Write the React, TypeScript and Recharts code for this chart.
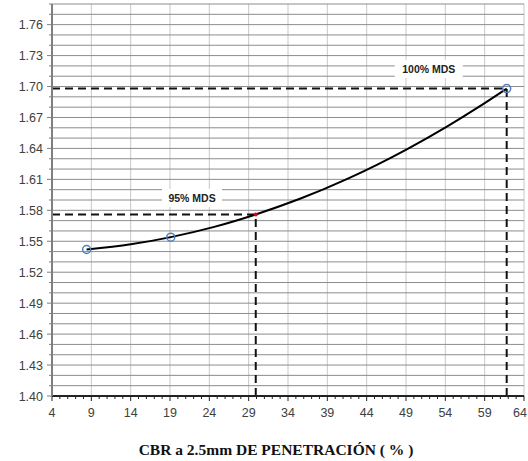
import React from 'react';
import {
  ComposedChart, Line, Scatter, XAxis, YAxis, ReferenceLine, ReferenceDot,
} from 'recharts';

// ensayo CBR: densidad seca vs CBR
const cbrPoints = [8.4, 19.1, 61.8];
const densityPoints = [1.542, 1.554, 1.698];

// curva de ajuste
const curveX = [8.4, 14.0, 19.1, 24.5, 29.9, 35.6, 41.4, 45.3, 49.1, 54.2, 58.0, 61.8];
const curveY = [1.542, 1.547, 1.554, 1.5637, 1.576, 1.5914, 1.610, 1.6241, 1.6391, 1.6611, 1.679, 1.698];

const mds100 = { x: 61.8, y: 1.698 };
const mds95 = { x: 29.9, y: 1.576 };

const xMajorTicks = [4, 9, 14, 19, 24, 29, 34, 39, 44, 49, 54, 59, 64];
const yMajorTicks = [1.40, 1.43, 1.46, 1.49, 1.52, 1.55, 1.58, 1.61, 1.64, 1.67, 1.70, 1.73, 1.76];
const xTicks = Array.from({ length: 61 }, (_, i) => 4 + i);
const yTicks = Array.from({ length: 39 }, (_, i) => Math.round((1.4 + i * 0.01) * 100) / 100);

const points = cbrPoints.map((x, i) => ({ x, y: densityPoints[i] }));
const curve = curveX.map((x, i) => ({ x, y: curveY[i] }));

const FONT = '"Liberation Sans", Arial, sans-serif';

const YTick = (props: any) => {
  const { x, y, payload } = props;
  const v = payload.value;
  const major = yMajorTicks.some((t) => Math.abs(t - v) < 0.001);
  return (
    <g>
      <line x1={x - (major ? 5 : 3)} x2={x} y1={y} y2={y} stroke="#7f7f7f" strokeWidth={1} />
      {major && (
        <text x={x - 9} y={y + 4.5} textAnchor="end" fontSize={12.5} fontFamily={FONT} fill="#404040">
          {v.toFixed(2)}
        </text>
      )}
    </g>
  );
};

const XTick = (props: any) => {
  const { x, y, payload } = props;
  const v = payload.value;
  const major = xMajorTicks.includes(v);
  const last = v === xMajorTicks[xMajorTicks.length - 1];
  return (
    <g>
      <line x1={x} x2={x} y1={y} y2={y + (major ? 5 : 3)} stroke="#222" strokeWidth={1} />
      {major && (
        <text x={last ? x + 3 : x} y={y + 21} textAnchor={last ? 'end' : 'middle'} fontSize={12.5}
          fontFamily={FONT} fill="#404040">
          {v}
        </text>
      )}
    </g>
  );
};

const boxLabel = (text: string, w: number) => (props: any) => {
  const { cx, cy } = props;
  return (
    <g>
      <rect x={cx - w / 2} y={cy - 9} width={w} height={18} fill="#fff" />
      <text x={cx} y={cy + 4} textAnchor="middle" fontSize={10.5} fontWeight="bold" fontFamily={FONT} fill="#222">
        {text}
      </text>
    </g>
  );
};

const Circle = (props: any) => {
  const { cx, cy } = props;
  return <circle cx={cx} cy={cy} r={4} fill="none" stroke="#4f81bd" strokeWidth={1.5} />;
};

export default function App() {
  return (
    <div style={{ position: 'absolute', left: 0, top: 0, width: 528, height: 461, background: '#fff' }}>
      <ComposedChart width={528} height={461} margin={{ top: 4, right: 4, bottom: 0, left: 0 }}>
        {xMajorTicks.slice(1).map((v) => (
          <ReferenceLine key={'gx' + v} x={v} stroke="#c8c8c8" strokeWidth={1} />
        ))}
        {yTicks.slice(1).map((v) => (
          <ReferenceLine key={'gy' + v} y={v} stroke="#8c8c8c" strokeWidth={1} />
        ))}
        <XAxis
          type="number"
          dataKey="x"
          domain={[4, 64]}
          ticks={xTicks}
          interval={0}
          height={65}
          tickSize={0}
          tickMargin={0}
          tickLine={false}
          tick={<XTick />}
          axisLine={{ stroke: '#222', strokeWidth: 2 }}
          allowDataOverflow
          label={{
            content: (p: any) => {
              const vb = p.viewBox;
              return (
                <text x={vb.x + vb.width / 2 - 12} y={455} textAnchor="middle" fontSize={15.5}
                  fontWeight="bold" fontFamily='"Liberation Serif", "Times New Roman", serif' fill="#111">
                  CBR a 2.5mm DE PENETRACIÓN  ( % )
                </text>
              );
            },
          }}
        />
        <YAxis
          type="number"
          domain={[1.4, 1.78]}
          ticks={yTicks}
          interval={0}
          width={52}
          tickSize={0}
          tickMargin={0}
          tickLine={false}
          tick={<YTick />}
          axisLine={{ stroke: '#7f7f7f', strokeWidth: 2 }}
          allowDataOverflow
        />
        <ReferenceLine segment={[{ x: 4, y: mds100.y }, { x: mds100.x, y: mds100.y }]} stroke="#111" strokeWidth={2} strokeDasharray="8 5" />
        <ReferenceLine segment={[{ x: mds100.x, y: 1.4 }, { x: mds100.x, y: mds100.y }]} stroke="#111" strokeWidth={2} strokeDasharray="8 5" />
        <ReferenceLine segment={[{ x: 4, y: mds95.y }, { x: mds95.x, y: mds95.y }]} stroke="#111" strokeWidth={2} strokeDasharray="8 5" />
        <ReferenceLine segment={[{ x: mds95.x, y: 1.4 }, { x: mds95.x, y: mds95.y }]} stroke="#111" strokeWidth={2} strokeDasharray="8 5" />
        <Line data={curve} dataKey="y" type="monotone" stroke="#000" strokeWidth={2} dot={false} isAnimationActive={false} />
        <Scatter data={points} dataKey="y" shape={<Circle />} isAnimationActive={false} />
        <ReferenceDot x={mds95.x} y={mds95.y} r={2} fill="#e00" stroke="none" />
        <ReferenceDot x={21.8} y={1.592} shape={boxLabel('95% MDS', 60)} />
        <ReferenceDot x={51.9} y={1.717} shape={boxLabel('100% MDS', 68)} />
      </ComposedChart>
    </div>
  );
}
